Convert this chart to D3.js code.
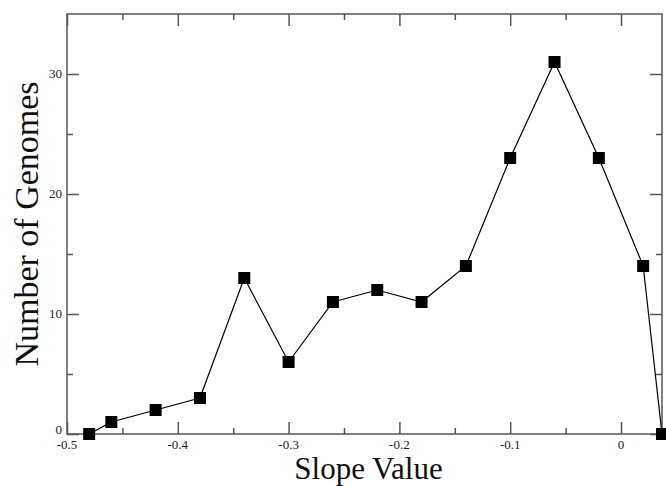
<!DOCTYPE html>
<html>
<head>
<meta charset="utf-8">
<script src="https://cdn.jsdelivr.net/npm/d3@7"></script>
<style>
  body { margin: 0; background: #fff; }
  svg { display: block; }
</style>
</head>
<body>
<svg id="chart"></svg>
<script>
// values
const slopes = [-0.48, -0.46, -0.42, -0.38, -0.34, -0.30, -0.26, -0.22, -0.18, -0.14, -0.10, -0.06, -0.02, 0.02, 0.037];
const genomes = [0, 1, 2, 3, 13, 6, 11, 12, 11, 14, 23, 31, 23, 14, 0];
const xTicks = [-0.5, -0.4, -0.3, -0.2, -0.1, 0];
const xTickLabels = ['-0.5', '-0.4', '-0.3', '-0.2', '-0.1', '0'];
const yTicks = [0, 10, 20, 30];

const width = 666, height = 486;
const margin = {top: 14, right: 4, bottom: 52, left: 67};

const svg = d3.select('#chart')
    .attr('width', width)
    .attr('height', height);

const x = d3.scaleLinear()
    .domain([-0.5, 0.037])
    .range([margin.left, width - margin.right]);

const y = d3.scaleLinear()
    .domain([0, 35])
    .range([height - margin.bottom, margin.top]);

const frameColor = '#555';
const serif = '"Liberation Serif", "DejaVu Serif", serif';

// minor ticks halfway between majors
const xMinor = [-0.45, -0.35, -0.25, -0.15, -0.05];
const yMinor = [5, 15, 25];

// bottom axis (ticks point inward)
const gb = svg.append('g').attr('transform', `translate(0,${y(0)})`);
gb.call(d3.axisTop(x).tickValues(xTicks).tickSize(12).tickFormat(''));
gb.append('g').call(d3.axisTop(x).tickValues(xMinor).tickSize(6).tickFormat(''));

// top axis
const gt = svg.append('g').attr('transform', `translate(0,${margin.top})`);
gt.call(d3.axisBottom(x).tickValues(xTicks).tickSize(12).tickFormat(''));
gt.append('g').call(d3.axisBottom(x).tickValues(xMinor).tickSize(6).tickFormat(''));

// left axis
const gl = svg.append('g').attr('transform', `translate(${margin.left},0)`);
gl.call(d3.axisRight(y).tickValues(yTicks).tickSize(12).tickFormat(''));
gl.append('g').call(d3.axisRight(y).tickValues(yMinor).tickSize(6).tickFormat(''));

// right axis
const gr = svg.append('g').attr('transform', `translate(${width - margin.right},0)`);
gr.call(d3.axisLeft(y).tickValues(yTicks).tickSize(12).tickFormat(''));
gr.append('g').call(d3.axisLeft(y).tickValues(yMinor).tickSize(6).tickFormat(''));

svg.selectAll('.domain').remove();
svg.selectAll('.tick line').attr('stroke', frameColor).attr('stroke-width', 1.5);

// frame
svg.append('rect')
    .attr('x', margin.left)
    .attr('y', margin.top)
    .attr('width', width - margin.right - margin.left)
    .attr('height', y(0) - margin.top)
    .attr('fill', 'none')
    .attr('stroke', frameColor)
    .attr('stroke-width', 1.5);

// tick labels
svg.append('g').selectAll('text')
    .data(xTicks)
    .enter().append('text')
    .attr('x', d => x(d))
    .attr('y', y(0) + 14.5)
    .attr('text-anchor', 'middle')
    .style('font-family', serif)
    .style('font-size', '13px')
    .style('fill', '#222')
    .text((d, i) => xTickLabels[i]);

svg.append('g').selectAll('text')
    .data(yTicks)
    .enter().append('text')
    .attr('x', margin.left - 5)
    .attr('y', d => y(d) + (d === 0 ? 0 : 4))
    .attr('text-anchor', 'end')
    .style('font-family', serif)
    .style('font-size', '13px')
    .style('fill', '#222')
    .text(d => d);

// axis titles
svg.append('text')
    .attr('x', (margin.left + width - margin.right) / 2 + 4)
    .attr('y', 479)
    .attr('text-anchor', 'middle')
    .style('font-family', serif)
    .style('font-size', '31px')
    .style('fill', '#111')
    .text('Slope Value');

svg.append('text')
    .attr('transform', `translate(38,${(margin.top + y(0)) / 2}) rotate(-90)`)
    .attr('text-anchor', 'middle')
    .style('font-family', serif)
    .style('font-size', '34px')
    .style('fill', '#111')
    .text('Number of Genomes');

// line + markers
const pts = slopes.map((s, i) => [s, genomes[i]]);

svg.append('path')
    .datum(pts)
    .attr('d', d3.line().x(d => x(d[0])).y(d => y(d[1])))
    .attr('fill', 'none')
    .attr('stroke', '#000')
    .attr('stroke-width', 1.2);

const sz = 12;
svg.append('g').selectAll('rect')
    .data(pts)
    .enter().append('rect')
    .attr('x', d => x(d[0]) - sz / 2)
    .attr('y', d => y(d[1]) - sz / 2)
    .attr('width', sz)
    .attr('height', sz)
    .attr('fill', '#000');
</script>
</body>
</html>
